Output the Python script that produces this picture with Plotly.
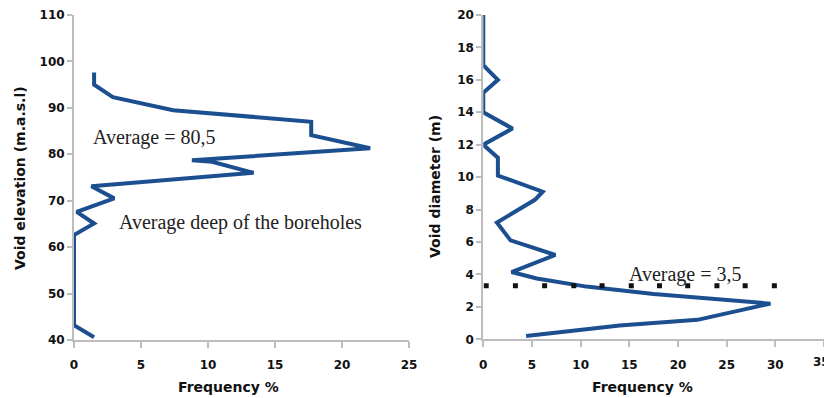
import plotly.graph_objects as go

# Left chart: void elevation vs frequency
elev_freq = [1.5, 1.5, 1.5, 2.9, 7.4, 17.7, 17.7, 22.1, 8.8, 10.3, 13.4, 1.3, 3.0, 0.2, 1.5, 0.0, 0.0, 1.5]
elev_val = [97.6, 95.6, 95.0, 92.3, 89.5, 87.0, 84.1, 81.3, 78.7, 78.4, 76.0, 73.1, 70.5, 67.6, 65.1, 62.6, 43.2, 40.6]

# Right chart: void diameter vs frequency
diam_freq = [0.0, 0.0, 1.5, 0.0, 0.0, 3.0, 0.0, 1.5, 1.5, 6.1, 5.3, 1.4, 2.8, 7.4, 2.9, 5.5, 10.6, 17.5, 29.5, 22.0, 14.0, 4.4]
diam_val = [20.0, 16.9, 16.0, 15.2, 14.0, 13.0, 12.0, 11.2, 10.1, 9.1, 8.6, 7.2, 6.1, 5.2, 4.15, 3.75, 3.25, 2.8, 2.2, 1.2, 0.85, 0.2]

# Dotted average line (right chart)
avg_x = [0.3, 3.3, 6.3, 9.3, 12.2, 15.2, 18.1, 21.0, 24.0, 26.9, 29.9]
avg_y = [3.3] * len(avg_x)

left_xticks = [0, 5, 10, 15, 20, 25]
left_yticks = [40, 50, 60, 70, 80, 90, 100, 110]
right_xticks = [0, 5, 10, 15, 20, 25, 30, 35]
right_yticks = [0, 2, 4, 6, 8, 10, 12, 14, 16, 18, 20]
right_edge_tick = 35  # last right-chart tick label, partly cut by the page edge

LINE = "#1b4f8f"
AX = "#bdbdbd"
TICKFONT = dict(family="DejaVu Sans", size=12, color="#111111", weight="bold")
TITLEFONT = dict(family="DejaVu Sans", size=14, color="#111111", weight="bold")
SERIF = dict(family="Liberation Serif", size=20, color="#222222")

fig = go.Figure()
fig.add_trace(go.Scatter(x=elev_freq, y=elev_val, mode="lines",
                         line=dict(color=LINE, width=4), xaxis="x", yaxis="y",
                         showlegend=False, hoverinfo="skip"))
fig.add_trace(go.Scatter(x=diam_freq, y=diam_val, mode="lines",
                         line=dict(color=LINE, width=4), xaxis="x2", yaxis="y2",
                         showlegend=False, hoverinfo="skip"))
fig.add_trace(go.Scatter(x=avg_x, y=avg_y, mode="markers",
                         marker=dict(symbol="square", size=5, color="#111111"),
                         xaxis="x2", yaxis="y2", showlegend=False, hoverinfo="skip"))

def axis(rng, ticks, domain, anchor, ticklen=5, standoff=None):
    d = dict(range=rng, tickvals=ticks, domain=domain, anchor=anchor,
             showgrid=False, zeroline=False, showline=True, linecolor=AX,
             linewidth=2, ticks="outside", ticklen=ticklen, tickwidth=2, tickcolor=AX,
             tickfont=TICKFONT, fixedrange=True, automargin=False)
    if standoff is not None:
        d["ticklabelstandoff"] = standoff
    return d

# The page body has an 8px margin, so the figure is sized to fill the rest of the window.
fig.update_layout(
    width=824, height=390,
    margin=dict(l=0, r=0, t=0, b=0),
    paper_bgcolor="white", plot_bgcolor="white",
    xaxis=axis([0, 25], left_xticks, [0.0801, 0.4867], "y", ticklen=6, standoff=7),
    yaxis=axis([40, 110], left_yticks, [0.1487, 0.9821], "x"),
    xaxis2=axis([0, 35], right_xticks, [0.5768, 0.9903], "y2", ticklen=6, standoff=7),
    yaxis2=axis([0, 20], right_yticks, [0.1505, 0.9821], "x2"),
)

annotations = [
    dict(text="Average = 80,5", x=1.3, y=83.7, xref="x", yref="y",
         xanchor="left", yanchor="middle", showarrow=False, font=SERIF),
    dict(text="Average deep of the boreholes", x=3.2, y=65.3, xref="x", yref="y",
         xanchor="left", yanchor="middle", showarrow=False, font=SERIF),
    dict(text="Average = 3,5", x=14.8, y=4.0, xref="x2", yref="y2",
         xanchor="left", yanchor="middle", showarrow=False, font=SERIF),
    dict(text="Void elevation (m.a.s.l)", x=0.0146, y=0.5641, xref="paper", yref="paper",
         textangle=-90, showarrow=False, font=TITLEFONT, xanchor="center", yanchor="middle"),
    dict(text="Void diameter (m)", x=0.5182, y=0.5436, xref="paper", yref="paper",
         textangle=-90, showarrow=False, font=TITLEFONT, xanchor="center", yanchor="middle"),
    dict(text="Frequency %", x=0.267, y=0.029, xref="paper", yref="paper",
         showarrow=False, font=TITLEFONT, xanchor="center", yanchor="middle"),
    dict(text="Frequency %", x=0.7706, y=0.029, xref="paper", yref="paper",
         showarrow=False, font=TITLEFONT, xanchor="center", yanchor="middle"),
    dict(text=str(right_edge_tick), x=1.0, y=0.0923, xref="paper", yref="paper",
         showarrow=False, font=TICKFONT, xanchor="right", yanchor="middle"),
]
fig.update_layout(annotations=annotations)

fig.write_html("out.html")
